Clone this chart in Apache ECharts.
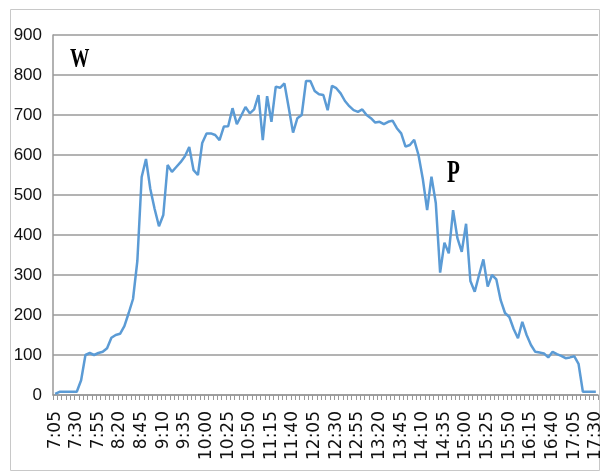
<!DOCTYPE html>
<html>
<head>
<meta charset="utf-8">
<script src="https://cdn.jsdelivr.net/npm/echarts@6/dist/echarts.min.js"></script>
<style>
  html, body { margin: 0; padding: 0; background: #fff; }
  #chart { width: 605px; height: 475px; }
</style>
</head>
<body>
<div id="chart"></div>
<script>
// 5-minute readings, 7:05 .. 17:30
const startMinute = 7 * 60 + 5
const stepMinutes = 5
const power = [
  3, 8, 8, 8, 8, 8, 37, 100, 105, 100,
  105, 108, 117, 143, 150, 153, 172, 205, 240, 335,
  545, 590, 515, 465, 422, 450, 575, 558, 570, 582,
  597, 620, 562, 550, 630, 654, 654, 650, 637, 671,
  672, 717, 677, 698, 720, 704, 714, 750, 637, 747,
  683, 771, 768, 779, 718, 656, 692, 700, 785, 785,
  760, 752, 750, 712, 773, 767, 754, 735, 722, 712,
  708, 714, 700, 692, 681, 683, 677, 683, 686, 667,
  654, 621, 625, 638, 600, 540, 462, 546, 480, 306,
  381, 354, 462, 392, 358, 428, 285, 258, 300, 339,
  271, 300, 289, 237, 205, 195, 165, 142, 183, 150,
  125, 108, 106, 104, 94, 108, 102, 98, 92, 94,
  97, 78, 8, 8, 8, 8
]
const yTicks = [0, 100, 200, 300, 400, 500, 600, 700, 800, 900]

const times = power.map((v, i) => {
  const m = startMinute + i * stepMinutes
  return Math.floor(m / 60) + ':' + String(m % 60).padStart(2, '0')
})

const chart = echarts.init(document.getElementById('chart'))

const option = {
  animation: false,
  backgroundColor: '#fff',
  grid: { left: 53, right: 7, top: 35, bottom: 80 },
  xAxis: {
    type: 'category',
    data: times,
    boundaryGap: true,
    axisLine: { lineStyle: { color: '#999', width: 1.5 } },
    axisTick: { show: true, interval: 0, length: 5, lineStyle: { color: '#999' } },
    axisLabel: {
      interval: 4,
      rotate: 90,
      margin: 16,
      color: '#111',
      fontSize: 17,
      fontFamily: 'DejaVu Sans'
    }
  },
  yAxis: {
    type: 'value',
    min: yTicks[0],
    max: yTicks[yTicks.length - 1],
    interval: 100,
    axisLine: { show: true, lineStyle: { color: '#999', width: 1.5 } },
    axisTick: { show: false },
    splitLine: { lineStyle: { color: '#9a9a9a', width: 1.5 } },
    axisLabel: {
      margin: 11,
      color: '#111',
      fontSize: 17,
      fontFamily: 'Liberation Sans Narrow, Arial Narrow, sans-serif'
    }
  },
  series: [{
    type: 'line',
    data: power,
    symbol: 'none',
    lineStyle: { color: '#5b9bd5', width: 2.5 }
  }],
  graphic: [
    {
      type: 'rect',
      shape: { x: 10.5, y: 9.5, width: 589, height: 461 },
      style: { fill: 'none', stroke: '#c8c8c8', lineWidth: 1 },
      silent: true
    },
    {
      type: 'text',
      x: 70, y: 47, scaleX: 0.72,
      style: { text: 'W', font: 'bold 27px "Liberation Serif", serif', fill: '#000' }
    },
    {
      type: 'text',
      x: 447, y: 158, scaleX: 0.68,
      style: { text: 'P', font: 'bold 31px "Liberation Serif", serif', fill: '#000' }
    }
  ]
}

chart.setOption(option)
</script>
</body>
</html>
